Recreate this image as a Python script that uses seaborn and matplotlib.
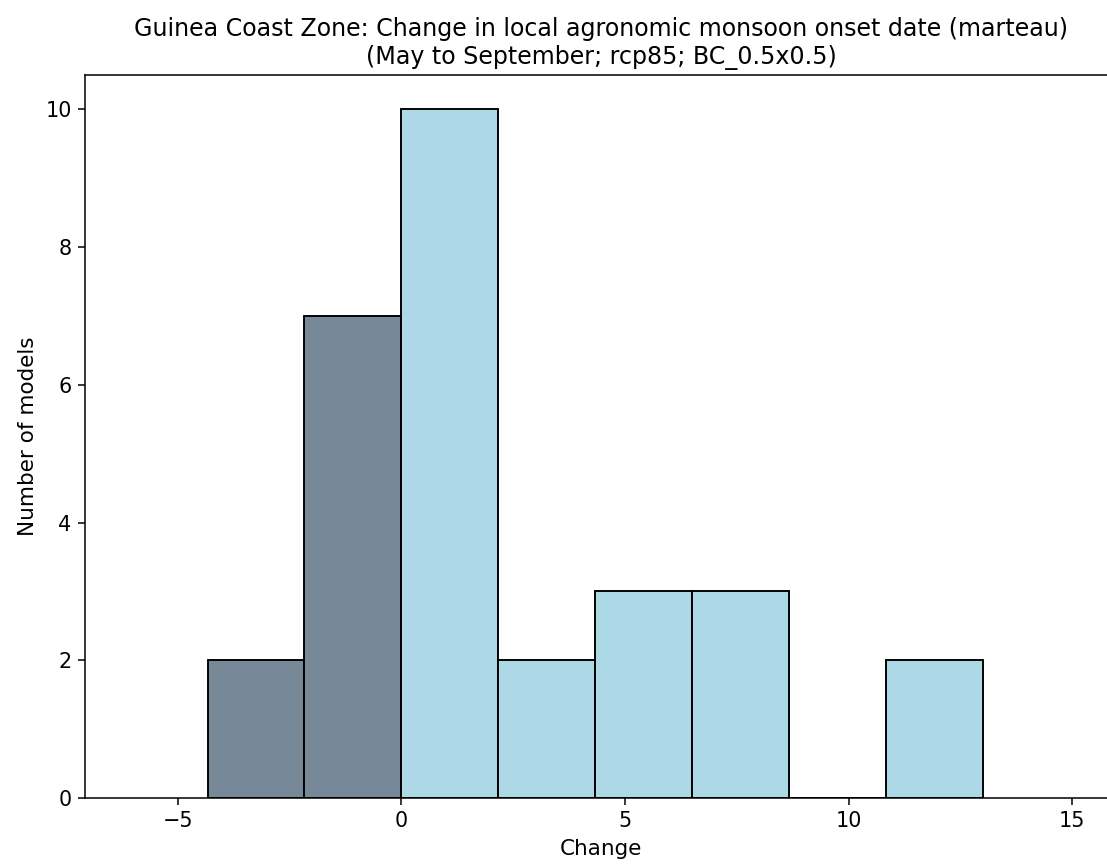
import numpy as np
import pandas as pd
import matplotlib
matplotlib.use("Agg")
import matplotlib.pyplot as plt
import seaborn as sns

# histogram of model changes (bin edges and model counts)
bin_edges = [-4.33, -2.17, 0.0, 2.17, 4.33, 6.5, 8.67, 10.83, 13.0]
model_counts = [2, 7, 10, 2, 3, 3, 0, 2]

title = ("Guinea Coast Zone: Change in local agronomic monsoon onset date (marteau)\n"
         "(May to September; rcp85; BC_0.5x0.5)")

edges = np.array(bin_edges)
df = pd.DataFrame({
    "change": (edges[:-1] + edges[1:]) / 2,
    "count": model_counts,
})

dpi = 138
fig = plt.figure(figsize=(1107 / dpi, 865 / dpi), dpi=dpi)
ax = fig.add_axes([85 / 1107, 67 / 865, (1117 - 85) / 1107, (798 - 75) / 865])

sns.histplot(data=df, x="change", weights="count", bins=bin_edges,
             color="lightblue", edgecolor="black", linewidth=1, alpha=1, ax=ax)

# bars below zero in slate grey
for p in ax.patches:
    if p.get_x() + p.get_width() <= 0:
        p.set_facecolor("lightslategray")

ax.set_xlim(-7.07, 16)
ax.set_ylim(0, 10.5)
ax.tick_params(labelsize=10.8)
ax.set_xlabel("Change", fontsize=11.2)
ax.set_ylabel("Number of models", fontsize=11.2)
ax.set_title(title, fontsize=12.4)

fig.savefig("out.png", dpi=dpi)
